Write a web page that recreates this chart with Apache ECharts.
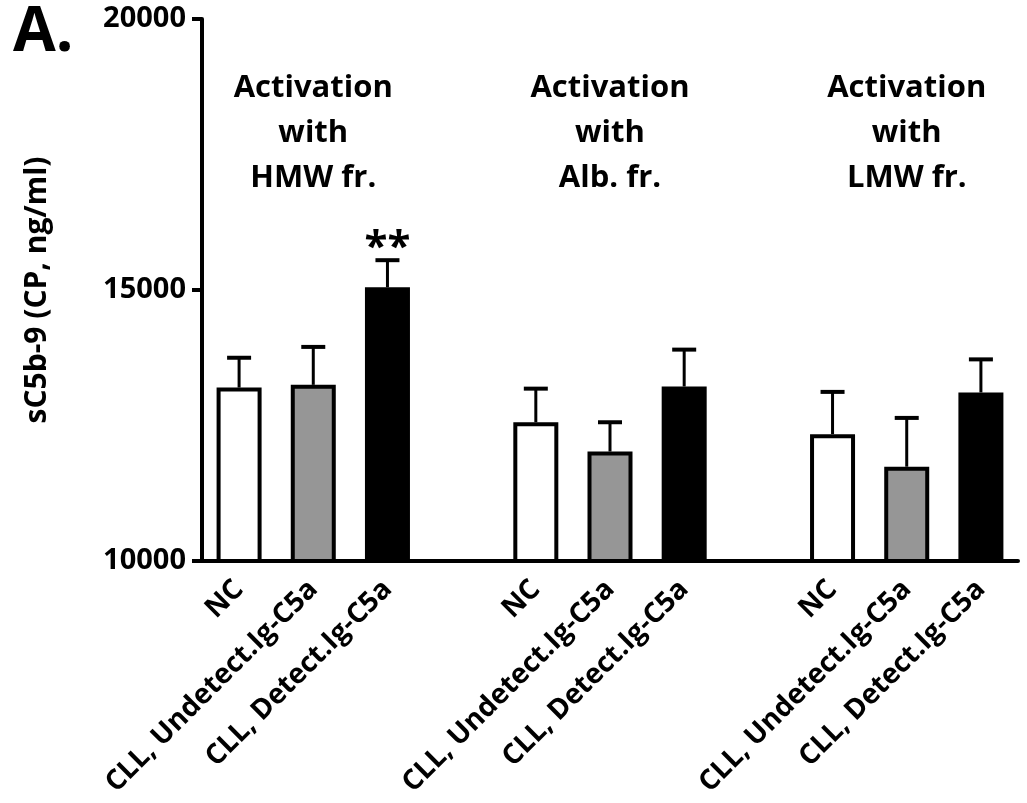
<!DOCTYPE html>
<html>
<head>
<meta charset="utf-8">
<script src="https://cdn.jsdelivr.net/npm/echarts@6/dist/echarts.min.js"></script>
<style>html,body{margin:0;padding:0;background:#fff;}#chart{width:1027px;height:803px;}</style>
</head>
<body>
<div id="chart"></div>
<script>
// ---- data ----
const conditions = ['NC', 'CLL, Undetect.Ig-C5a', 'CLL, Detect.Ig-C5a'];
const groupTitles = ['Activation\nwith\nHMW fr.', 'Activation\nwith\nAlb. fr.', 'Activation\nwith\nLMW fr.'];
const hmwMeans = [13200, 13250, 15050];
const hmwErrors = [550, 700, 500];
const albMeans = [12560, 12020, 13220];
const albErrors = [620, 540, 680];
const lmwMeans = [12340, 11740, 13110];
const lmwErrors = [780, 900, 610];
const hmwSignif = ['', '', '**'];
const albSignif = ['', '', ''];
const lmwSignif = ['', '', ''];
const yTicks = [10000, 15000, 20000];
const fillColors = ['#ffffff', '#969696', '#000000'];

// ---- build slots (gap slot between groups) ----
const groups = [
  { means: hmwMeans, errs: hmwErrors, sig: hmwSignif },
  { means: albMeans, errs: albErrors, sig: albSignif },
  { means: lmwMeans, errs: lmwErrors, sig: lmwSignif }
];
const cats = [];
const barData = [];
const errData = [];
const groupCenterIdx = [];
let gapName = '';
groups.forEach((g, gi) => {
  conditions.forEach((c, ci) => {
    const idx = cats.length;
    cats.push(c);
    barData.push({
      value: g.means[ci],
      itemStyle: { color: fillColors[ci], borderColor: '#000', borderWidth: 4 }
    });
    errData.push([idx, g.means[ci], g.errs[ci], g.sig[ci]]);
    if (ci === 1) groupCenterIdx.push(idx);
  });
  if (gi < groups.length - 1) {
    cats.push(gapName);
    gapName += ' ';
    barData.push(null);
  }
});

const chart = echarts.init(document.getElementById('chart'), null, { renderer: 'canvas' });
const FONT = 'Open Sans';

const option = {
  animation: false,
  backgroundColor: '#fff',
  grid: { left: 202, top: 19, width: 816, bottom: 242, containLabel: false },
  xAxis: {
    type: 'category',
    data: cats,
    axisLine: { lineStyle: { color: '#000', width: 4 } },
    axisTick: { show: false },
    axisLabel: {
      interval: 0, rotate: 45, margin: 24,
      fontFamily: FONT, fontWeight: 'bold', fontSize: 28, color: '#000'
    }
  },
  yAxis: {
    type: 'value',
    min: yTicks[0], max: yTicks[yTicks.length - 1], interval: yTicks[1] - yTicks[0],
    name: 'sC5b-9 (CP, ng/ml)',
    nameLocation: 'middle', nameGap: 150,
    nameTextStyle: { fontFamily: FONT, fontWeight: 'bold', fontSize: 30, color: '#000' },
    axisLine: { show: true, lineStyle: { color: '#000', width: 4 } },
    axisTick: { show: true, length: 10, lineStyle: { color: '#000', width: 4 } },
    splitLine: { show: false },
    axisLabel: {
      margin: 16, fontFamily: FONT, fontWeight: 'bold', fontSize: 29, color: '#000',
      formatter: function (v) { return String(v); }
    }
  },
  series: [
    {
      type: 'bar',
      data: barData,
      barWidth: 45,
      z: 2
    },
    {
      type: 'custom',
      z: 3,
      data: errData,
      renderItem: function (params, api) {
        const x = api.value(0);
        const mean = api.value(1);
        const err = api.value(2);
        const sig = errData[params.dataIndex][3];
        const base = api.coord([x, mean]);
        const top = api.coord([x, mean + err]);
        const half = 12;
        const children = [
          { type: 'line', shape: { x1: base[0], y1: base[1], x2: top[0], y2: top[1] },
            style: { stroke: '#000', lineWidth: 3 } },
          { type: 'line', shape: { x1: top[0] - half, y1: top[1], x2: top[0] + half, y2: top[1] },
            style: { stroke: '#000', lineWidth: 4 } }
        ];
        if (sig) {
          children.push({
            type: 'text',
            style: {
              text: sig, x: top[0], y: top[1] + 9,
              align: 'center', verticalAlign: 'bottom',
              fontFamily: FONT, fontWeight: 'bold', fontSize: 42, fill: '#000'
            }
          });
        }
        return { type: 'group', children: children };
      }
    }
  ]
};
chart.setOption(option);

// group titles and panel letter
const graphics = [
  { type: 'text', left: 13, top: 2,
    style: { text: 'A.', fontFamily: FONT, fontWeight: 'bold', fontSize: 62, fill: '#000' } }
];
groupCenterIdx.forEach((idx, gi) => {
  const px = chart.convertToPixel({ gridIndex: 0 }, [idx, yTicks[0]]);
  graphics.push({
    type: 'text', x: px[0], y: 133,
    style: {
      text: groupTitles[gi], align: 'center', verticalAlign: 'middle',
      fontFamily: FONT, fontWeight: 'bold', fontSize: 31, lineHeight: 45, fill: '#000'
    }
  });
});
chart.setOption({ graphic: graphics });
</script>
</body>
</html>
